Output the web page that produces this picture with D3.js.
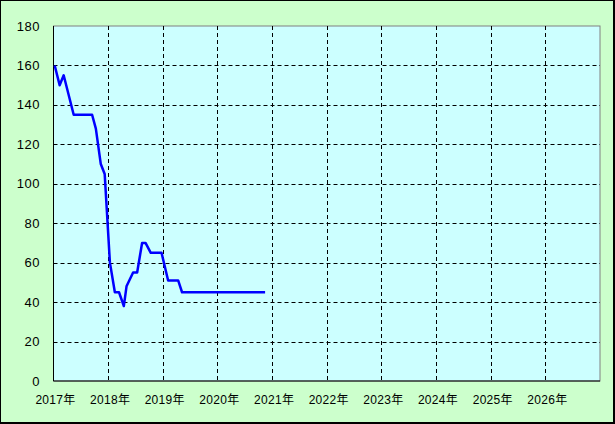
<!DOCTYPE html>
<html>
<head>
<meta charset="utf-8">
<script src="https://cdn.jsdelivr.net/npm/d3@7"></script>
<style>
  body { margin: 0; background: #fff; }
  text { font-family: "Liberation Sans", Arial, "Noto Sans CJK JP", sans-serif; font-size: 12px; fill: #000; }
</style>
</head>
<body>
<script>
// data
const dates = ['2017-01-09', '2017-02-11', '2017-03-10', '2017-05-16', '2017-09-16', '2017-10-11',
    '2017-11-13', '2017-12-09', '2018-01-13', '2018-02-15', '2018-03-15', '2018-04-16',
    '2018-05-04', '2018-06-17', '2018-07-14', '2018-08-16', '2018-09-08', '2018-10-13',
    '2018-12-24', '2019-02-06', '2019-04-14', '2019-05-10', '2020-11-15'];
const values = [160, 150, 155, 135, 135, 128, 110, 105, 60, 45, 45, 38,
    48, 55, 55, 70, 70, 65, 65, 51, 51, 45, 45];
const yearTicks = [2017, 2018, 2019, 2020, 2021, 2022, 2023, 2024, 2025, 2026];
const yTicks = [0, 20, 40, 60, 80, 100, 120, 140, 160, 180];

const W = 615, H = 424;
const margin = { top: 26, right: 15, bottom: 43, left: 53.5 };

const parse = d3.timeParse('%Y-%m-%d');
const data = dates.map((d, i) => ({ date: parse(d), value: values[i] }));

const svg = d3.select('body').append('svg')
    .attr('width', W)
    .attr('height', H);

// outer frame
svg.append('rect').attr('width', W).attr('height', H).attr('fill', '#000');
svg.append('rect').attr('x', 1).attr('y', 1).attr('width', W - 3).attr('height', H - 3)
    .attr('fill', '#ccffcc');

const x = d3.scaleTime()
    .domain([new Date(2017, 0, 1), new Date(2027, 0, 1)])
    .range([margin.left, W - margin.right]);

const y = d3.scaleLinear()
    .domain([0, 180])
    .range([H - margin.bottom, margin.top]);

// plot area
svg.append('rect')
    .attr('x', x.range()[0]).attr('y', y(180))
    .attr('width', x.range()[1] - x.range()[0]).attr('height', y(0) - y(180))
    .attr('fill', '#ccffff')
    .attr('stroke', '#808080')
    .attr('stroke-width', 1);

// grid
svg.append('g').selectAll('line')
    .data(yTicks.filter(d => d > 0 && d < 180))
    .enter().append('line')
    .attr('x1', x.range()[0]).attr('x2', x.range()[1])
    .attr('y1', d => Math.round(y(d)) + 0.5).attr('y2', d => Math.round(y(d)) + 0.5)
    .attr('stroke', '#000').attr('stroke-dasharray', '4,3');

svg.append('g').selectAll('line')
    .data(yearTicks.slice(1))
    .enter().append('line')
    .attr('x1', d => Math.round(x(new Date(d, 0, 1))) + 0.5)
    .attr('x2', d => Math.round(x(new Date(d, 0, 1))) + 0.5)
    .attr('y1', y(180)).attr('y2', y(0))
    .attr('stroke', '#000').attr('stroke-dasharray', '4,3');

// axes lines
svg.append('line')
    .attr('x1', x.range()[0]).attr('x2', x.range()[0])
    .attr('y1', y(180)).attr('y2', y(0))
    .attr('stroke', '#000');
svg.append('line')
    .attr('x1', x.range()[0]).attr('x2', x.range()[1])
    .attr('y1', y(0)).attr('y2', y(0))
    .attr('stroke', '#000');

// y labels
svg.append('g').selectAll('text')
    .data(yTicks)
    .enter().append('text')
    .attr('x', 40)
    .attr('y', d => y(d))
    .attr('dy', '0.35em')
    .attr('text-anchor', 'end')
    .style('font-size', '13px')
    .style('letter-spacing', '0.5px')
    .text(d => d);

// x labels
svg.append('g').selectAll('text')
    .data(yearTicks)
    .enter().append('text')
    .attr('x', d => x(new Date(d, 0, 1)) + 2)
    .attr('y', 404)
    .attr('text-anchor', 'middle')
    .style('letter-spacing', '0.3px')
    .text(d => d + '年');

// series
const line = d3.line()
    .x(d => x(d.date))
    .y(d => y(d.value));

svg.append('path')
    .datum(data)
    .attr('d', line)
    .attr('fill', 'none')
    .attr('stroke', '#0000ff')
    .attr('stroke-width', 2.5)
    .attr('stroke-linejoin', 'round');
</script>
</body>
</html>
